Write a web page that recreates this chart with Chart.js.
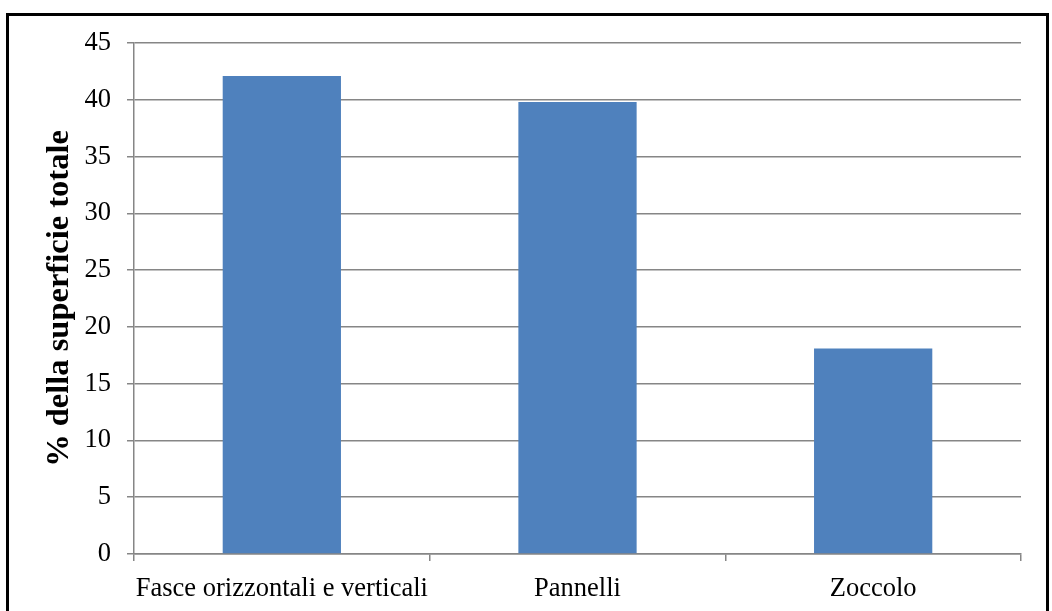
<!DOCTYPE html>
<html>
<head>
<meta charset="utf-8">
<script src="https://cdn.jsdelivr.net/npm/chart.js@4/dist/chart.umd.min.js"></script>
<style>
  body { margin: 0; background: #fff; overflow: hidden; }
  #wrap { position: relative; width: 1052px; height: 611px; }
  #frame { position: absolute; left: 6px; top: 13px; width: 1037px; height: 620px; border: 3px solid #000; pointer-events: none; }
</style>
</head>
<body>
<div id="wrap">
  <canvas id="c" width="1052" height="611"></canvas>
  <div id="frame"></div>
</div>
<script>
const categories = ['Fasce orizzontali e verticali', 'Pannelli', 'Zoccolo'];
const values = [42.1, 39.8, 18.1];
const yTitle = '% della superficie totale';

const serif = '"Liberation Serif", "Times New Roman", serif';
const tickFont = { family: serif, size: 26.5 };
const gridGray = '#868686';

new Chart(document.getElementById('c').getContext('2d'), {
  type: 'bar',
  data: {
    labels: categories,
    datasets: [{
      data: values,
      backgroundColor: '#4F81BD',
      borderWidth: 0,
      barPercentage: 0.4,
      categoryPercentage: 1
    }]
  },
  options: {
    responsive: false,
    animation: false,
    layout: { padding: { left: 0, top: 43, right: 31, bottom: 0 } },
    plugins: { legend: { display: false }, tooltip: { enabled: false } },
    scales: {
      x: {
        grid: { drawOnChartArea: false, drawTicks: true, tickLength: 7, color: gridGray, lineWidth: 1.5 },
        border: { color: gridGray, width: 1.5 },
        ticks: { color: '#000', font: tickFont, padding: 12, maxRotation: 0 },
        afterFit(scale) { scale.height = 57; }
      },
      y: {
        min: 0,
        max: 45,
        ticks: { stepSize: 5, color: '#000', font: tickFont, padding: 16 },
        grid: { color: gridGray, lineWidth: 1.5, tickLength: 7 },
        border: { color: gridGray, width: 1.5 },
        title: {
          display: true,
          text: yTitle,
          color: '#000',
          font: { family: serif, size: 32.5, weight: 'bold' },
          padding: { top: 40, bottom: 0 }
        },
        afterFit(scale) { scale.width = 134; }
      }
    }
  }
});
</script>
</body>
</html>
